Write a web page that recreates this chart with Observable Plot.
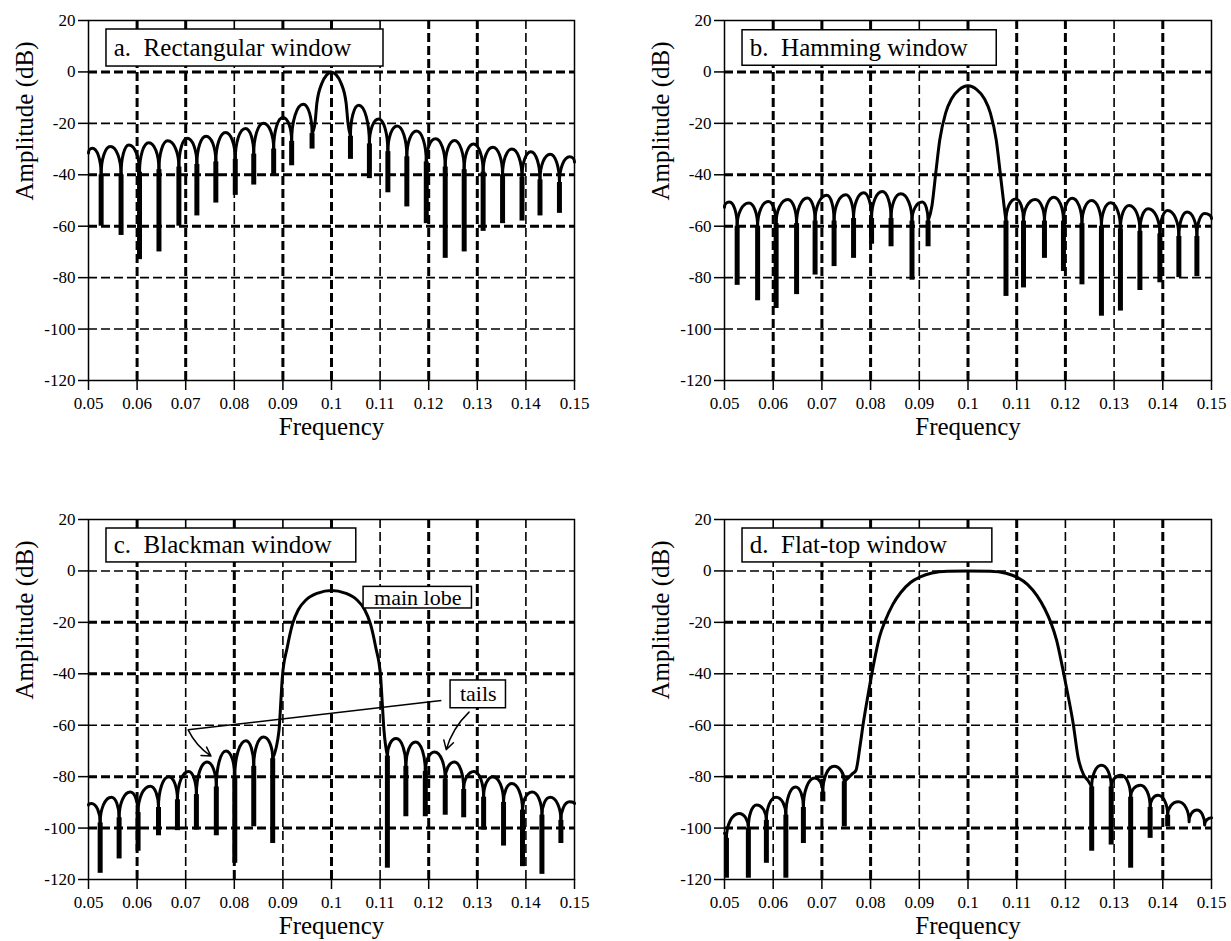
<!DOCTYPE html>
<html><head><meta charset="utf-8">
<script src="https://cdn.jsdelivr.net/npm/d3@7"></script>
<script src="https://cdn.jsdelivr.net/npm/@observablehq/plot@0.6"></script>
<style>
body{margin:0;background:#fff;}
#fig{position:relative;width:1231px;height:941px;overflow:hidden;background:#fff;}
.panel{position:absolute;}
#fig svg, #fig svg text{font-family:"Liberation Serif","Times New Roman",serif !important;}
</style></head><body><div id="fig"></div>
<script>
const xTicks = [0.05,0.06,0.07,0.08,0.09,0.1,0.11,0.12,0.13,0.14,0.15];
const xTickLabels = ["0.05","0.06","0.07","0.08","0.09","0.1","0.11","0.12","0.13","0.14","0.15"];
const yTicks = [-120,-100,-80,-60,-40,-20,0,20];
const yTickLabels = ["-120","-100","-80","-60","-40","-20","0","20"];
const xGrid = [0.06,0.07,0.08,0.09,0.1,0.11,0.12,0.13,0.14];
const yGrid = [0,-20,-40,-60,-80,-100];
const xLabel = "Frequency";
const yLabel = "Amplitude (dB)";
const titles = ["a.\u00a0 Rectangular window","b.\u00a0 Hamming window","c.\u00a0 Blackman window","d.\u00a0 Flat-top window"];

// side-lobe points [frequency, dB]; main lobe points [frequency, dB]; nulls [frequency, dB where lobes meet, dB at bottom of null]
const rectArc = [[0.05,-31.5],[0.0508,-29.7],[0.0545,-29],[0.0583,-28.4],[0.0624,-27.5],[0.0663,-26.8],[0.0703,-25.8],[0.0742,-25],[0.0782,-23.6],[0.0823,-22],[0.086,-20],[0.09,-17.7],[0.0942,-12.6],
  [0.1056,-13],[0.1097,-18.3],[0.1135,-21],[0.1175,-23],[0.1214,-26],[0.1253,-26.7],[0.1292,-28],[0.1332,-29.3],[0.1371,-30],[0.141,-31],[0.145,-32],[0.149,-33],[0.15,-35]];
const rectMain = [[0.0966,-20],[0.097,-12],[0.098,-4.5],[0.099,-1.2],[0.1,0],[0.101,-1.2],[0.102,-4.5],[0.103,-12],[0.1034,-20]];
const rectNulls = [[0.0526,-40,-60],[0.0567,-40,-63.6],[0.0605,-39,-73],[0.0645,-38,-70],[0.0686,-37,-60],[0.0723,-36,-56],[0.0762,-35,-51],[0.0802,-34,-48],[0.084,-32,-44],[0.0881,-30,-40.6],[0.0918,-27,-36.5],[0.096,-24,-30],
  [0.1039,-25,-34],[0.1078,-28,-41.5],[0.1116,-31,-47],[0.1155,-33,-52.5],[0.1195,-35,-59],[0.1234,-37,-72.5],[0.1273,-38,-70],[0.1312,-39,-62],[0.1352,-40,-59],[0.1392,-41,-58],[0.1429,-42,-56],[0.1469,-43,-55]];

const hammArc = [[0.05,-52.6],[0.051,-50.6],[0.055,-51],[0.059,-50.4],[0.063,-49.6],[0.067,-49],[0.071,-48],[0.0749,-47.8],[0.0786,-47],[0.0824,-46.5],[0.0862,-47.4],[0.0906,-50.6],
  [0.1098,-49.4],[0.1138,-49.6],[0.1176,-48.7],[0.1214,-49.1],[0.1254,-50],[0.1293,-50.9],[0.1331,-51.9],[0.137,-53.2],[0.141,-53.9],[0.145,-54.5],[0.1486,-55.1],[0.15,-57]];
const hammMain = [[0.0926,-52],[0.0934,-39],[0.0942,-26.5],[0.0954,-16],[0.0966,-10.5],[0.0982,-6.9],[0.1,-5.4],[0.1018,-6.9],[0.1034,-10.5],[0.1046,-16],[0.1058,-26.5],[0.1066,-39],[0.1074,-52]];
const hammNulls = [[0.0526,-60,-83],[0.0568,-60,-89],[0.0606,-59,-92],[0.0648,-59,-86.6],[0.0686,-58,-79],[0.0725,-58,-75.7],[0.0765,-57,-72.5],[0.0802,-57,-67],[0.0842,-57,-68],[0.0885,-58,-81],[0.0918,-58,-68],
  [0.1078,-58,-87.3],[0.1114,-58,-84],[0.1157,-58,-72.5],[0.1196,-58,-77.6],[0.1234,-59,-82.8],[0.1274,-60,-95],[0.1313,-61,-93],[0.1353,-62,-85],[0.1394,-63,-82],[0.1433,-64,-80],[0.147,-64,-79.6]];

const blackArc = [[0.05,-91],[0.0506,-90.4],[0.0547,-88],[0.0586,-86],[0.0627,-83.7],[0.0665,-80],[0.0706,-78],[0.0744,-74.3],[0.0783,-70],[0.0824,-66],[0.086,-64.6],
  [0.1133,-65.2],[0.1173,-66.5],[0.1212,-70.4],[0.1253,-74.3],[0.1293,-78],[0.1332,-80],[0.1371,-82.7],[0.1413,-86],[0.145,-88],[0.149,-89.8],[0.15,-90.4]];
const blackMain = [[0.0892,-62],[0.0896,-50],[0.0899,-41],[0.0909,-29.7],[0.092,-20.5],[0.0932,-15],[0.0948,-11.2],[0.0972,-8.6],[0.1,-7.6],[0.1028,-8.6],[0.1052,-11.2],[0.1068,-15],[0.108,-20.5],[0.1091,-29.7],[0.1101,-41],[0.1104,-50],[0.1108,-62]];
const blackNulls = [[0.0524,-98,-117.6],[0.0563,-96,-112],[0.0602,-94,-109],[0.0644,-92,-103],[0.0683,-89,-101],[0.0722,-87,-100.8],[0.0763,-84,-103],[0.0801,-80,-113.7],[0.084,-76,-99.5],[0.0879,-73,-106],
  [0.1115,-72,-115.6],[0.1153,-76,-95.6],[0.1193,-78,-95.6],[0.1234,-81,-95],[0.1272,-85,-96],[0.1313,-88,-100.8],[0.1354,-90,-107],[0.1393,-93,-115],[0.1433,-95,-118],[0.1472,-97,-106]];

const flatArc = [[0.05,-102],[0.053,-94.3],[0.0566,-91],[0.0606,-88],[0.0646,-84],[0.0685,-80.5],[0.0725,-76],
  [0.1274,-75.6],[0.1314,-79.5],[0.1354,-83.3],[0.139,-87.2],[0.1432,-89.8],[0.1454,-97.5],[0.147,-93],[0.1486,-98.8],[0.15,-96]];
const flatMain = [[0.0762,-79],[0.077,-77.5],[0.0778,-68.5],[0.0786,-58],[0.0794,-49],[0.0805,-37.5],[0.0818,-25.8],[0.083,-19.4],[0.0846,-12.9],[0.0862,-8.4],[0.0882,-4.5],[0.0902,-2.3],[0.0926,-0.8],[0.0958,-0.1],[0.1,0],[0.1046,-0.1],[0.1078,-0.9],[0.1102,-2.6],[0.1122,-5.2],[0.1142,-9.7],[0.1158,-14.9],[0.117,-20],[0.1182,-27],[0.1194,-37.5],[0.1206,-49],[0.1216,-59.4],[0.1226,-72.4],[0.1238,-79.5],[0.1246,-81.4]];
const flatNulls = [[0.0504,-104,-119.5],[0.0549,-100,-119.5],[0.0586,-97,-113.7],[0.0626,-95,-119.5],[0.0662,-92,-106],[0.0702,-86,-89.8],[0.0746,-82,-99.5],
  [0.1254,-84,-109],[0.1294,-84,-106.6],[0.1334,-88,-115.6],[0.1374,-92,-104],[0.141,-95,-99.5]];

// grid line weights per panel (1 = heavy, 0 = light), as printed
const xGridHeavy = [[1,1,0,1,1,0,1,1,0],[1,1,1,0,1,1,1,0,1],[1,0,1,0,1,0,1,1,0],[0,1,1,0,1,1,0,0,1]];
const yGridHeavy = [[1,0,1,1,0,0],[1,0,1,1,0,0],[0,1,1,0,1,1],[0,1,0,0,1,1]];

// title boxes [x1, x2, y1, y2, text x]
const titleBoxes = [[0.0537,0.1107,16.5,2.1,0.0552],[0.0537,0.1059,16.2,2.4,0.0552],[0.0537,0.1051,16.5,3.3,0.0552],[0.0537,0.105,16.5,3.3,0.0552]];
// annotations of panel c
const cNoteText = ["main lobe","tails"];
const cNoteBoxes = [[0.1066,0.1289,-6.2,-14.6],[0.1245,0.1359,-42.6,-53.4]];
const cPointer = [[0.1226,-50.4,0.0705,-61.8]];
const cArrows = [[0.0705,-61.8,0.0752,-72],[0.1283,-54.9,0.1236,-69.5]];

// arch-shaped lobes: vertical where lobes meet, flat at the lobe tops
function archCurve(context) {
  let pts;
  return {
    areaStart() {}, areaEnd() {},
    lineStart() { pts = []; },
    point(x, y) { pts.push([+x, +y]); },
    lineEnd() {
      if (!pts.length) return;
      context.moveTo(pts[0][0], pts[0][1]);
      const a = 0.55;
      for (let i = 1; i < pts.length; i++) {
        const [x0, y0] = pts[i - 1], [x1, y1] = pts[i];
        if (y1 < y0) context.bezierCurveTo(x0, y0 + (y1 - y0) * a, x1 - (x1 - x0) * a, y1, x1, y1);
        else context.bezierCurveTo(x0 + (x1 - x0) * a, y0, x1, y1 + (y0 - y1) * a, x1, y1);
      }
    }
  };
}

function lobeRows(arc, main, nulls) {
  const side = [], mainRows = [];
  const ns = nulls.slice().sort((a, b) => a[0] - b[0]);
  for (let k = 0; k <= ns.length; k++) {
    const lo = k > 0 ? ns[k - 1][0] : -Infinity;
    const hi = k < ns.length ? ns[k][0] : Infinity;
    const inner = arc.concat(main).filter(p => p[0] > lo && p[0] < hi).sort((a, b) => a[0] - b[0]);
    const isMain = main.some(p => p[0] > lo && p[0] < hi);
    const rows = isMain ? mainRows : side;
    if (k > 0) rows.push({x: ns[k - 1][0], y: ns[k - 1][1], seg: k});
    for (const p of inner) rows.push({x: p[0], y: p[1], seg: k});
    if (k < ns.length) rows.push({x: ns[k][0], y: ns[k][1], seg: k});
  }
  return {side, mainRows};
}

const panels = [
  {arc: rectArc, main: rectMain, nulls: rectNulls, left: 0, top: 0, width: 615, height: 480, ml: 88, mr: 41, mt: 20, mb: 100},
  {arc: hammArc, main: hammMain, nulls: hammNulls, left: 615, top: 0, width: 616, height: 480, ml: 109, mr: 20, mt: 20, mb: 100},
  {arc: blackArc, main: blackMain, nulls: blackNulls, left: 0, top: 480, width: 615, height: 461, ml: 88, mr: 41, mt: 39, mb: 62},
  {arc: flatArc, main: flatMain, nulls: flatNulls, left: 615, top: 480, width: 616, height: 461, ml: 109, mr: 20, mt: 39, mb: 62}
];

const FONT = '"Liberation Serif", serif';
const fig = document.getElementById("fig");
panels.forEach((p, i) => {
  const box = titleBoxes[i];
  const {side, mainRows} = lobeRows(p.arc, p.main, p.nulls);
  const marks = [
    Plot.ruleX(xGrid, {x: d => d, stroke: "black", strokeWidth: (d, j) => xGridHeavy[i][j] ? 3 : 1.6, strokeDasharray: "9,4"}),
    Plot.ruleY(yGrid, {y: d => d, stroke: "black", strokeWidth: (d, j) => yGridHeavy[i][j] ? 3 : 1.6, strokeDasharray: "9,4"}),
    Plot.axisX(xTicks, {tickFormat: d => xTickLabels[xTicks.indexOf(d)], tickSize: 10, tickPadding: 6, fontSize: 17, label: null, strokeWidth: 1.5, fontFamily: FONT}),
    Plot.axisY(yTicks, {tickFormat: d => yTickLabels[yTicks.indexOf(d)], tickSize: 10, tickPadding: 3, fontSize: 17, label: null, strokeWidth: 1.5, fontFamily: FONT}),
    Plot.ruleX(p.nulls, {x: d => d[0], y1: d => d[1], y2: d => d[2], stroke: "black", strokeWidth: 5}),
    Plot.line(side, {x: "x", y: "y", z: "seg", curve: archCurve, stroke: "black", strokeWidth: 3}),
    Plot.line(mainRows, {x: "x", y: "y", z: "seg", curve: "monotone-x", stroke: "black", strokeWidth: 3}),
    Plot.frame({stroke: "black", strokeWidth: 1.5}),
    Plot.rect([box], {x1: d => d[0], x2: d => d[1], y1: d => d[2], y2: d => d[3], fill: "white", stroke: "black", strokeWidth: 1.5}),
    Plot.text([titles[i]], {x: box[4], y: (box[2] + box[3]) / 2, textAnchor: "start", fontSize: 25, fill: "black", fontFamily: FONT}),
    Plot.text([xLabel], {frameAnchor: "bottom", dy: 54, fontSize: 25, fill: "black", fontFamily: FONT}),
    Plot.text([yLabel], {frameAnchor: "left", rotate: -90, dx: -64, fontSize: 25, fill: "black", fontFamily: FONT})
  ];
  if (i === 2) {
    marks.push(
      Plot.link(cPointer, {x1: d => d[0], y1: d => d[1], x2: d => d[2], y2: d => d[3], stroke: "black", strokeWidth: 1.5}),
      Plot.arrow(cArrows, {x1: d => d[0], y1: d => d[1], x2: d => d[2], y2: d => d[3], stroke: "black", strokeWidth: 1.5, bend: -15, headLength: 10}),
      Plot.rect(cNoteBoxes, {x1: d => d[0], x2: d => d[1], y1: d => d[2], y2: d => d[3], fill: "white", stroke: "black", strokeWidth: 1.5}),
      Plot.text(cNoteBoxes, {x: d => (d[0] + d[1]) / 2, y: d => (d[2] + d[3]) / 2, text: (d, j) => cNoteText[j], fontSize: 22, fill: "black", fontFamily: FONT})
    );
  }
  const svg = Plot.plot({
    width: p.width, height: p.height,
    marginLeft: p.ml, marginRight: p.mr, marginTop: p.mt, marginBottom: p.mb,
    x: {domain: [0.05, 0.15]},
    y: {domain: [-120, 20]},
    style: {fontFamily: FONT, color: "black", background: "white", overflow: "visible"},
    marks
  });
  const div = document.createElement("div");
  div.className = "panel";
  div.style.left = p.left + "px";
  div.style.top = p.top + "px";
  div.appendChild(svg);
  fig.appendChild(div);
});
</script></body></html>
